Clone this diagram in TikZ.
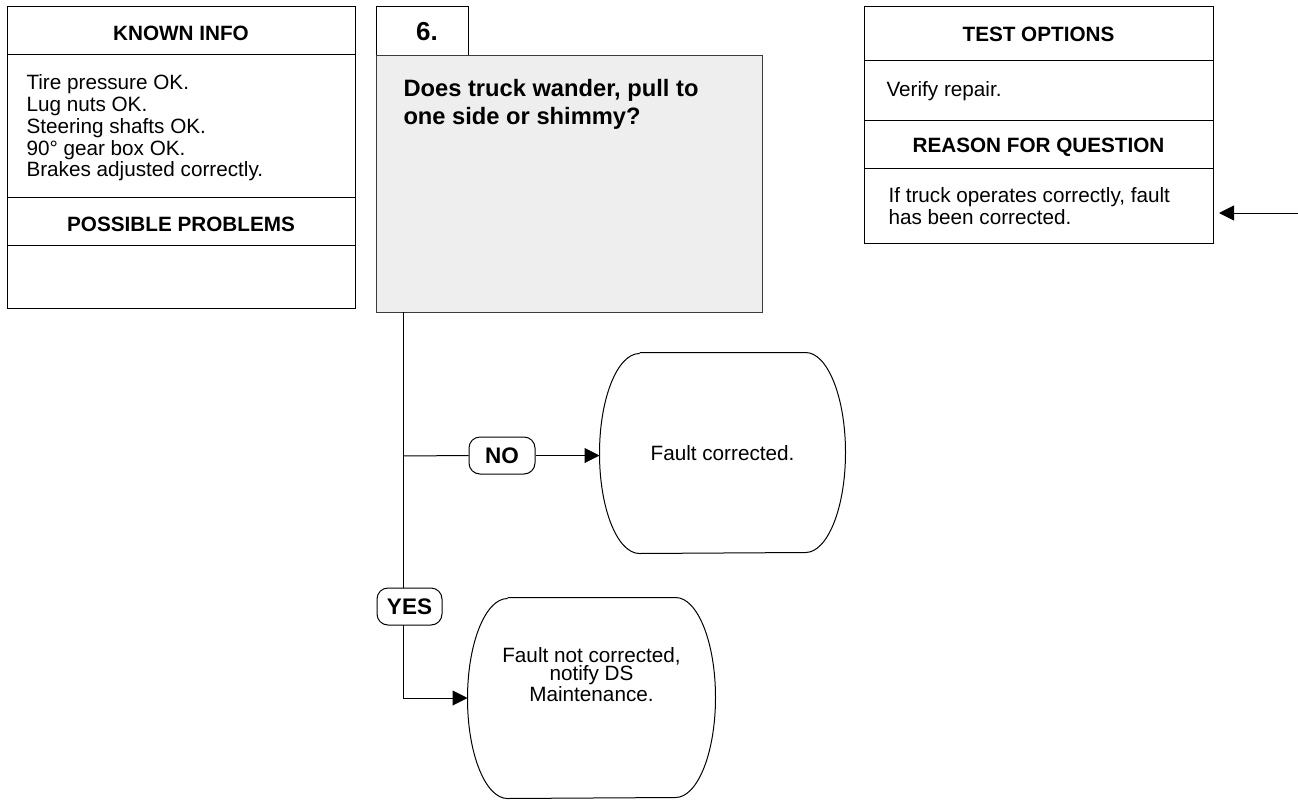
\documentclass[tikz,border=0pt]{standalone}
\usepackage{fontspec}
\setmainfont{Liberation Sans}
\usetikzlibrary{arrows.meta}
\definecolor{qgrey}{RGB}{238,238,238}
\definecolor{qedge}{RGB}{60,60,60}
\begin{document}
\begin{tikzpicture}[x=1pt,y=-1pt,line width=1pt,
  panel/.style={draw,rectangle,inner sep=0pt,anchor=north west},
  bodytext/.style={font=\fontsize{20.7}{21.7}\selectfont,inner sep=0pt,align=left,anchor=base west},
  headtext/.style={font=\bfseries\fontsize{20.7}{24}\selectfont,inner sep=0pt,anchor=base},
  qtext/.style={font=\bfseries\fontsize{23.7}{27.3}\selectfont,inner sep=0pt,align=left,anchor=base west},
  answer/.style={draw,fill=white,rounded corners=11pt,inner sep=0pt,font=\bfseries\fontsize{22.5}{24}\selectfont},
  term/.style={draw=none,rectangle,inner sep=0pt,minimum height=200pt},
  termtext/.style={font=\fontsize{20.7}{18.7}\selectfont,align=center,inner sep=0pt},
  flow/.style={-{Triangle[length=15pt,width=15pt]}}]

\useasboundingbox (0,0) rectangle (1298,803);
\fill[white] (0,0) rectangle (1298,803);

% left column: known info / possible problems
\node[panel,minimum width=348pt,minimum height=48pt]  (knownhead) at (7,6) {};
\node[panel,minimum width=348pt,minimum height=143pt] (knownbody) at (7,54) {};
\node[panel,minimum width=348pt,minimum height=48pt]  (probhead)  at (7,197) {};
\node[panel,minimum width=348pt,minimum height=63pt]  (probbody)  at (7,245) {};
\node[headtext] (knowntitle) at (181,40.7) {KNOWN INFO};
% multi-line texts are anchored on the baseline of their last line
\node[bodytext] (knowntext) at (26,176.7) {Tire pressure OK.\\Lug nuts OK.\\Steering shafts OK.\\90° gear box OK.\\Brakes adjusted correctly.};
\node[headtext] (probtitle) at (181,231.7) {POSSIBLE PROBLEMS};

% question step
\node[panel,minimum width=92pt,minimum height=49pt] (steptab) at (376,6) {};
\node[font=\bfseries\fontsize{26}{28}\selectfont,inner sep=0pt,anchor=base] (stepnum) at (427,40.7) {6.};
\node[panel,draw=qedge,fill=qgrey,minimum width=386pt,minimum height=257pt] (qbox) at (376,55) {};
\node[qtext] (qtextnode) at (403,124) {Does truck wander, pull to\\one side or shimmy?};

% right column: test options / reason for question
\node[panel,minimum width=349pt,minimum height=54pt] (testhead)   at (864,6) {};
\node[panel,minimum width=349pt,minimum height=60pt] (testbody)   at (864,60) {};
\node[panel,minimum width=349pt,minimum height=48pt] (reasonhead) at (864,120) {};
\node[panel,minimum width=349pt,minimum height=75pt] (reasonbody) at (864,168) {};
\node[headtext] (testtitle) at (1038.5,41.7) {TEST OPTIONS};
\node[bodytext] (testtext) at (886,96.7) {Verify repair.};
\node[headtext] (reasontitle) at (1038.5,152) {REASON FOR QUESTION};
\node[bodytext] (reasontext) at (888,224) {If truck operates correctly, fault\\has been corrected.};

% end states
\node[term,minimum width=245pt,font=\fontsize{20.7}{24}\selectfont] (fixed) at (722.5,453) {Fault corrected.};
\node[term,minimum width=247pt] (notfixed) at (591.5,698) {};
\node[termtext,anchor=base] (notfixedtext) at (591.5,701) {Fault not corrected,\\notify DS\\Maintenance.};
\foreach \t in {fixed,notfixed}{
  \draw ([xshift=40pt]\t.north west) -- ([xshift=-40pt]\t.north east)
    arc[start angle=90,end angle=0,x radius=40pt,y radius=100pt]
    arc[start angle=0,end angle=-90,x radius=40pt,y radius=100pt]
    -- ([xshift=40pt]\t.south west)
    arc[start angle=-90,end angle=-180,x radius=40pt,y radius=100pt]
    arc[start angle=180,end angle=90,x radius=40pt,y radius=100pt];
}

% connectors
\coordinate (qout)  at (403,312);
\coordinate (split) at (403,456);
\coordinate (turn)  at (403,698);
\coordinate (feed)  at (1298,213);

\draw (qout) -- (turn);
\draw[flow] (turn) -- (notfixed.west);
\node[answer,minimum width=66pt,minimum height=37pt] (no) at (502,455.5) {NO};
\draw (split) -- (no.west);
\draw[flow] (no.east) -- (no.east -| fixed.west);
\node[answer,minimum width=65pt,minimum height=37pt] (yes) at (409.5,606.5) {YES};
\draw[flow,shorten >=5pt] (feed) -- (feed -| reasonbody.east);

\end{tikzpicture}
\end{document}
